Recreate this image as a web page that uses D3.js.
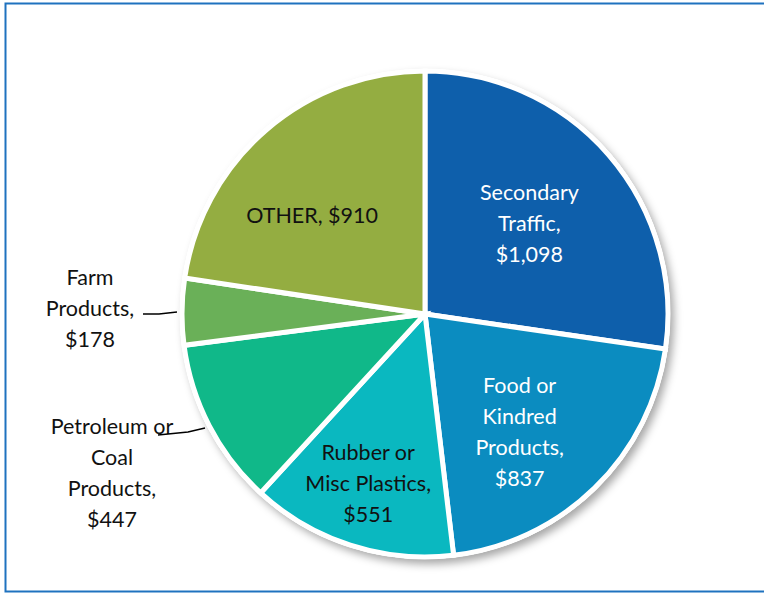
<!DOCTYPE html>
<html>
<head>
<meta charset="utf-8">
<script src="https://cdn.jsdelivr.net/npm/d3@7"></script>
<style>
  html, body { margin: 0; padding: 0; background: #fff; }
  svg { display: block; }
  .lbl { font-family: Lato, "Open Sans", sans-serif; font-size: 21.5px; }
</style>
</head>
<body>
<svg id="chart" width="764" height="594"></svg>
<script>
// data
const categories = ["Secondary Traffic", "Food or Kindred Products", "Rubber or Misc Plastics",
                    "Petroleum or Coal Products", "Farm Products", "OTHER"];
const values = [1098, 837, 551, 447, 178, 910];
const labelLines = [
    ["Secondary", "Traffic,", "$1,098"],
    ["Food or", "Kindred", "Products,", "$837"],
    ["Rubber or", "Misc Plastics,", "$551"],
    ["Petroleum or", "Coal", "Products,", "$447"],
    ["Farm", "Products,", "$178"],
    ["OTHER, $910"]
];
const colors = ["#0e5fab", "#0b8cc0", "#0ab8c0", "#10b889", "#6ab058", "#94ad41"];
const textColors = ["#fff", "#fff", "#111", "#111", "#111", "#111"];

const svg = d3.select("#chart");
const cx = 425, cy = 314, R = 243;
const lineH = 31;

// frame
svg.append("rect")
    .attr("x", 5.5).attr("y", 3.5)
    .attr("width", 770).attr("height", 588)
    .attr("fill", "none").attr("stroke", "#1f72bf").attr("stroke-width", 2);

const defs = svg.append("defs");
const f = defs.append("filter").attr("id", "shadow")
    .attr("x", "-20%").attr("y", "-20%").attr("width", "140%").attr("height", "140%");
f.append("feDropShadow").attr("dx", 4).attr("dy", 5).attr("stdDeviation", 4)
    .attr("flood-color", "#000").attr("flood-opacity", 0.35);

const g = svg.append("g").attr("transform", `translate(${cx},${cy})`);

const pie = d3.pie().sort(null).value(d => d);
const arcs = pie(values);
const arc = d3.arc().innerRadius(0).outerRadius(R);

// white disc with shadow behind slices
g.append("circle").attr("r", R + 2).attr("fill", "#fff").attr("filter", "url(#shadow)");

g.selectAll("path.slice")
    .data(arcs)
    .join("path")
    .attr("class", "slice")
    .attr("d", arc)
    .attr("fill", (d, i) => colors[i])
    .attr("stroke", "#fff")
    .attr("stroke-width", 5)
    .attr("stroke-linejoin", "miter");

// label placement: inside slices on a label arc, outside for the small ones
const inside = [true, true, true, false, false, true];
const insideR = [138, 150, 175, 0, 0, 150];
const nudge = [[0, 0], [-10, 10], [-3, 3], [0, 0], [0, 0], [-15, 15]];

arcs.forEach((d, i) => {
    const lines = labelLines[i];
    let x, y;
    if (inside[i]) {
        const la = d3.arc().innerRadius(insideR[i]).outerRadius(insideR[i]);
        [x, y] = la.centroid(d);
        x += nudge[i][0];
        y += nudge[i][1];
    } else {
        x = i === 3 ? -313 : -335;
        y = i === 3 ? 159 : -6;
    }
    const t = g.append("text")
        .attr("class", "lbl")
        .attr("text-anchor", "middle")
        .attr("fill", textColors[i]);
    const y0 = y - (lines.length - 1) * lineH / 2;
    lines.forEach((s, k) => {
        t.append("tspan").attr("x", x).attr("y", y0 + k * lineH).attr("dy", "0.35em").text(s);
    });
});

// leader lines for outside labels
g.append("path")
    .attr("d", "M-282,0 L-266,0 L-248,-2")
    .attr("fill", "none").attr("stroke", "#000").attr("stroke-width", 1.5);
g.append("path")
    .attr("d", "M-267,121 L-237,118 L-220,114")
    .attr("fill", "none").attr("stroke", "#000").attr("stroke-width", 1.5);
</script>
</body>
</html>
